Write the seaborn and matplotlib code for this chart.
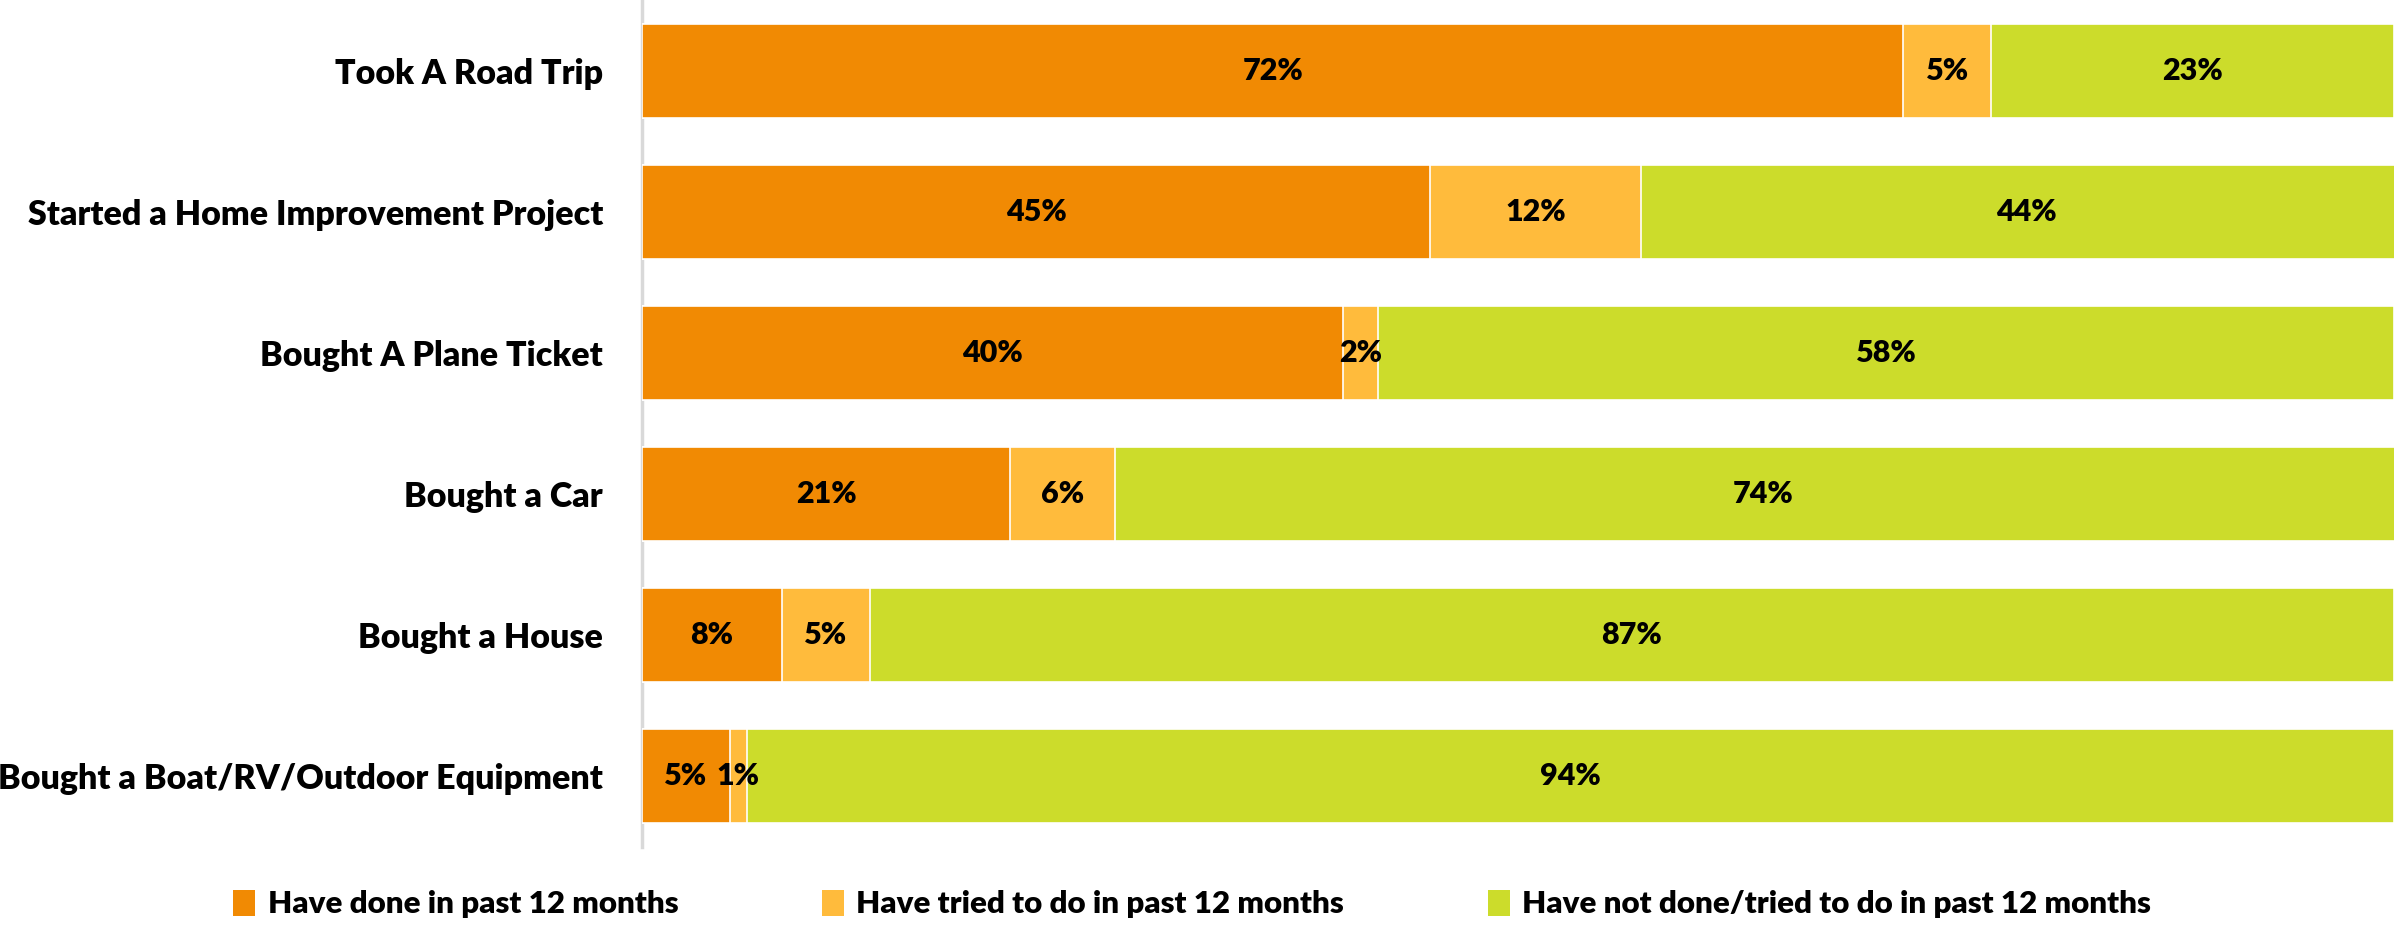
import matplotlib
matplotlib.use("Agg")
import matplotlib.pyplot as plt
from matplotlib.patches import Patch
import seaborn as sns
import pandas as pd

categories = [
    "Took A Road Trip",
    "Started a Home Improvement Project",
    "Bought A Plane Ticket",
    "Bought a Car",
    "Bought a House",
    "Bought a Boat/RV/Outdoor Equipment",
]
series_names = [
    "Have done in past 12 months",
    "Have tried to do in past 12 months",
    "Have not done/tried to do in past 12 months",
]
done = [72, 45, 40, 21, 8, 5]
tried = [5, 12, 2, 6, 5, 1]
not_done = [23, 44, 58, 74, 87, 94]

colors = ["#F18A03", "#FFBB3C", "#CCDC2B"]

sns.set_theme(style="white")
plt.rcParams["font.family"] = ["Lato", "DejaVu Sans"]
WEIGHT = "heavy"

df = pd.DataFrame({"category": categories, "done": done, "tried": tried, "not_done": not_done})
df["c1"] = df["done"]
df["c2"] = df["done"] + df["tried"]
df["c3"] = df["c2"] + df["not_done"]

fig = plt.figure(figsize=(23.94, 9.27), dpi=100)
ax = fig.add_axes([642 / 2394, 80 / 927, 1 - 642 / 2394, 847 / 927])

# stacked bars drawn as overlapping cumulative totals, back to front
for col, color in zip(["c3", "c2", "c1"], colors[::-1]):
    sns.barplot(data=df, x=col, y="category", orient="h", color=color,
                width=0.665, edgecolor="white", linewidth=1.2, ax=ax,
                saturation=1)

# segment labels
for i, row in df.iterrows():
    starts = [0, row["c1"], row["c2"]]
    vals = [row["done"], row["tried"], row["not_done"]]
    for s, v in zip(starts, vals):
        ax.text(s + v / 2, i, f"{v}%", ha="center", va="center",
                fontsize=22, fontweight=WEIGHT, color="black")

ax.set_xlim(0, 100)
ax.set_ylim(5.5, -0.5)
ax.set_xlabel("")
ax.set_ylabel("")
ax.set_xticks([])
ax.tick_params(axis="y", length=0, pad=28, labelsize=24.5)
for lab in ax.get_yticklabels():
    lab.set_fontweight(WEIGHT)
    lab.set_color("black")
for side in ["top", "right", "bottom"]:
    ax.spines[side].set_visible(False)
ax.spines["left"].set_color("#D9D9D9")
ax.spines["left"].set_linewidth(2.5)
ax.spines["left"].set_zorder(0)

handles = [Patch(facecolor=c, edgecolor="none", label=n) for c, n in zip(colors, series_names)]
leg = fig.legend(handles=handles, loc="center", bbox_to_anchor=(0.498, 1 - 904 / 927),
                 ncol=3, frameon=False, handlelength=0.7, handleheight=0.9,
                 handletextpad=0.4, columnspacing=4.6,
                 prop={"weight": WEIGHT, "size": 22.5})
for t in leg.get_texts():
    t.set_color("black")

fig.savefig("out.png", dpi=100, facecolor="white")
